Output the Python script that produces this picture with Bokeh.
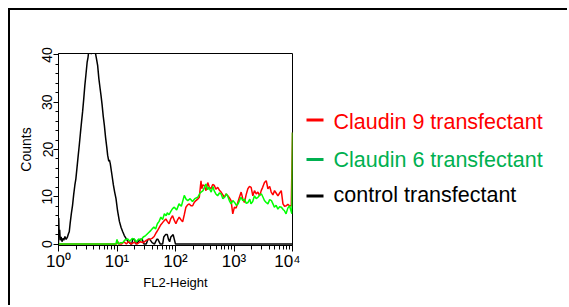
from bokeh.plotting import figure
from bokeh.models import FixedTicker, Range1d
from bokeh.layouts import row
from bokeh.core.properties import value
from bokeh.embed import file_html
from bokeh.resources import INLINE

# ---- data (log10 of FL2-Height, counts) ----
control_log = [0.000, 0.004, 0.012, 0.020, 0.030, 0.045, 0.060, 0.075, 0.090, 0.110,
               0.130, 0.150, 0.170, 0.184, 0.200, 0.220, 0.240, 0.260, 0.280, 0.297,
               0.315, 0.335, 0.355, 0.375, 0.395, 0.412, 0.430, 0.450, 0.468, 0.490,
               0.505, 0.515, 0.540, 0.560, 0.580, 0.600, 0.625, 0.645, 0.669, 0.690,
               0.710, 0.726, 0.745, 0.765, 0.784, 0.805, 0.825, 0.840, 0.860, 0.870,
               0.885, 0.897, 0.915, 0.938, 0.960, 0.983, 1.010, 1.041, 1.070, 1.098,
               1.125, 1.154, 1.185, 1.213, 1.240, 1.25, 1.27, 1.30, 1.32, 1.36,
               1.40, 1.43, 1.46, 1.50, 1.53, 1.56, 1.60, 1.64, 1.68, 1.70,
               1.74, 1.78, 1.80, 1.83, 1.86, 1.88, 1.90, 1.92, 1.96, 1.98,
               2.00, 4.00]
control_counts = [0, 5.5, 1.5, 3, 0.8, 1.5, 0.5, 1.2, 0.8, 1.6,
                  1.0, 1.4, 2.2, 2.6, 4.5, 6.5, 8.2, 10.5, 12.5, 13.8,
                  16, 18.5, 20.9, 23.5, 26, 28, 30.5, 33.5, 35.7, 38.5,
                  39.5, 40.6, 40.6, 40.2, 40.8, 41, 40.8, 39.5, 37.8, 35,
                  33, 31.5, 29.5, 27, 25.1, 22.5, 20.5, 18.8, 17.5, 17.8,
                  17, 16, 14.5, 12.5, 11, 9.6, 7, 4.8, 3.5, 2.6,
                  1.8, 1.2, 0.6, 0.3, 0, 0, 1, 1, 0, 0.5,
                  1, 1, 0, 0, 1, 1, 0.3, 0, 1, 1,
                  0, 0, 1.5, 2, 2, 1, 0.5, 1.5, 2, 1,
                  0, 0]

claudin9_log = [0, 0.99, 1.01, 1.03, 1.08, 1.12, 1.16, 1.20, 1.24, 1.30,
                1.34, 1.40, 1.45, 1.50, 1.52, 1.56, 1.60, 1.635, 1.67, 1.70,
                1.75, 1.79, 1.835, 1.86, 1.89, 1.92, 1.95, 1.98, 2.007, 2.03,
                2.063, 2.09, 2.122, 2.15, 2.178, 2.207, 2.235, 2.264, 2.293, 2.32,
                2.35, 2.379, 2.407, 2.436, 2.45, 2.465, 2.492, 2.521, 2.551, 2.578,
                2.607, 2.636, 2.664, 2.69, 2.722, 2.75, 2.779, 2.81, 2.835, 2.865,
                2.894, 2.92, 2.95, 2.979, 3.007, 3.036, 3.065, 3.09, 3.122, 3.15,
                3.178, 3.207, 3.237, 3.265, 3.293, 3.322, 3.350, 3.38, 3.408, 3.44,
                3.465, 3.49, 3.521, 3.551, 3.580, 3.61, 3.636, 3.665, 3.693, 3.72,
                3.751, 3.78, 3.808, 3.837, 3.864, 3.894, 3.92, 3.95, 3.979, 4.0]
claudin9_counts = [0, 0, 0.6, 0, 0, 0.5, 0, 0.6, 0, 0.4,
                   0, 0.5, 0.3, 0.8, 0.9, 1.0, 1.2, 1.6, 2.4, 3.0,
                   4.1, 4.7, 5.3, 4.8, 4.3, 5.4, 6.0, 5.0, 4.3, 5.0,
                   5.7, 5.2, 4.7, 6.2, 7.8, 8.3, 8.5, 8.1, 8.1, 8.8,
                   9.2, 9.5, 9.9, 13.4, 11.7, 12.5, 12.4, 11.3, 13.0, 12.0,
                   11.7, 12.6, 12.4, 11.6, 12.0, 11.4, 11.0, 10.4, 9.9, 10.6,
                   10.2, 9.8, 9.2, 6.4, 7.8, 7.6, 8.8, 9.8, 11.0, 9.6,
                   8.8, 10.4, 11.7, 12.2, 12.0, 10.2, 11.3, 10.6, 11.0, 10.2,
                   11.3, 12.0, 13.0, 13.4, 11.7, 12.2, 11.0, 10.4, 11.3, 10.8,
                   10.2, 10.8, 11.3, 8.5, 8.0, 8.1, 8.4, 8.1, 8.1, 23.6]

claudin6_log = [0, 0.98, 1.0, 1.02, 1.06, 1.10, 1.13, 1.18, 1.22, 1.26,
                1.29, 1.33, 1.37, 1.41, 1.45, 1.49, 1.53, 1.58, 1.63, 1.66,
                1.69, 1.72, 1.75, 1.78, 1.81, 1.84, 1.86, 1.89, 1.92, 1.95,
                1.98, 2.02, 2.06, 2.10, 2.15, 2.18, 2.21, 2.25, 2.29, 2.33,
                2.38, 2.42, 2.47, 2.52, 2.55, 2.57, 2.61, 2.64, 2.66, 2.69,
                2.72, 2.75, 2.78, 2.81, 2.84, 2.87, 2.89, 2.92, 2.95, 2.98,
                3.01, 3.04, 3.07, 3.10, 3.12, 3.15, 3.18, 3.21, 3.24, 3.27,
                3.29, 3.32, 3.35, 3.38, 3.41, 3.44, 3.47, 3.50, 3.52, 3.55,
                3.58, 3.61, 3.64, 3.67, 3.69, 3.72, 3.75, 3.78, 3.81, 3.84,
                3.86, 3.89, 3.92, 3.95, 3.97, 3.99, 4.0]
claudin6_counts = [0, 0, 1, 0, 0.3, 0.3, 0.8, 1.1, 0.6, 1.2,
                   1.1, 0.5, 1.1, 0.8, 1.5, 1.8, 2.3, 2.9, 3.6, 3.2,
                   4.3, 4.8, 5.7, 5.2, 6.4, 6.0, 6.6, 6.2, 6.9, 7.5,
                   7.8, 7.2, 8.5, 8.0, 10.3, 9.5, 9.2, 9.6, 9.0, 9.6,
                   9.9, 10.8, 11.3, 12.7, 11.5, 12.0, 11.0, 12.2, 11.3, 10.6,
                   10.2, 10.8, 10.6, 9.6, 9.9, 10.6, 10.2, 9.2, 8.5, 9.2,
                   8.8, 8.2, 8.5, 9.4, 9.9, 9.2, 9.5, 8.6, 8.8, 9.5,
                   8.5, 9.0, 10.2, 9.6, 9.9, 10.4, 10.6, 9.8, 9.2, 8.8,
                   8.5, 9.4, 9.2, 8.4, 7.8, 8.2, 7.4, 7.9, 7.8, 7.3,
                   7.1, 6.4, 7.6, 8.1, 7.2, 6.4, 23.6]

x_ticks = [1, 10, 100, 1000, 10000]
x_tick_labels = ["10\u2070", "10\u00b9", "10\u00b2", "10\u00b3", "10\u2074"]
y_ticks = [0, 10, 20, 30, 40]

legend_labels = ["Claudin 9 transfectant", "Claudin 6 transfectant", "control transfectant"]
legend_text_colors = ["#FF0000", "#00B050", "#000000"]
legend_mark_colors = ["#FF0000", "#00B050", "#000000"]
line_colors = ["#FF0000", "#00FF00", "#000000"]

FONT = "Liberation Sans"
NARROW = "Liberation Sans Narrow, Liberation Sans"

H = 297
B_TOP, B_BOTTOM = 43, 62

# ---------------- main histogram panel ----------------
p = figure(width=292, height=H, x_axis_type="log",
           x_range=Range1d(1, 10000), y_range=Range1d(-0.3, 40.3),
           output_backend="svg", toolbar_location=None,
           min_border_left=48, min_border_right=10,
           min_border_top=B_TOP, min_border_bottom=B_BOTTOM)
p.styles = {"border-top": "2px solid black", "border-left": "2px solid black"}
p.background_fill_color = "white"
p.border_fill_color = "white"
p.outline_line_color = "black"
p.outline_line_width = 1
p.xgrid.visible = False
p.ygrid.visible = False

p.line([10 ** e for e in control_log], control_counts, line_color=line_colors[2], line_width=1.5)
p.line([10 ** e for e in claudin9_log], claudin9_counts, line_color=line_colors[0], line_width=1.5)
p.line([10 ** e for e in claudin6_log], claudin6_counts, line_color=line_colors[1], line_width=1.5)

# x axis
minor_x = [t * k for t in x_ticks[:-1] for k in range(2, 10)]
p.xaxis.ticker = FixedTicker(ticks=x_ticks, minor_ticks=minor_x)
p.xaxis.major_label_overrides = {t: lab for t, lab in zip(x_ticks, x_tick_labels)}
p.xaxis.major_label_text_font = NARROW
p.xaxis.major_label_text_font_size = "17px"
p.xaxis.major_label_text_color = "black"
p.xaxis.major_label_standoff = 0
p.xaxis.major_tick_in = 0
p.xaxis.major_tick_out = 6
p.xaxis.minor_tick_in = 0
p.xaxis.minor_tick_out = 4
p.xaxis.axis_label = "FL2-Height"
p.xaxis.axis_label_text_font = FONT
p.xaxis.axis_label_text_font_size = "13px"
p.xaxis.axis_label_text_font_style = "normal"
p.xaxis.axis_label_text_color = "black"
p.xaxis.axis_label_standoff = 1
p.xaxis.axis_line_color = "black"

# y axis
minor_y = [t + k for t in y_ticks[:-1] for k in (2, 4, 6, 8)]
p.yaxis.ticker = FixedTicker(ticks=y_ticks, minor_ticks=minor_y)
p.yaxis.major_label_orientation = "vertical"
p.yaxis.major_label_text_font = FONT
p.yaxis.major_label_text_font_size = "14px"
p.yaxis.major_label_text_color = "black"
p.yaxis.major_label_standoff = 1
p.yaxis.major_tick_in = 0
p.yaxis.major_tick_out = 5
p.yaxis.minor_tick_in = 0
p.yaxis.minor_tick_out = 3
p.yaxis.axis_label = "Counts"
p.yaxis.axis_label_text_font = FONT
p.yaxis.axis_label_text_font_size = "14px"
p.yaxis.axis_label_text_font_style = "normal"
p.yaxis.axis_label_text_color = "black"
p.yaxis.axis_label_standoff = 6
p.yaxis.axis_line_color = "black"

# ---------------- legend panel (frame-relative coordinates, y down) ----------------
LW = 267
FRAME_H = H - B_TOP - B_BOTTOM
q = figure(width=LW, height=H, x_range=Range1d(0, LW), y_range=Range1d(FRAME_H, 0),
           x_axis_location=None, y_axis_location=None,
           output_backend="svg", toolbar_location=None,
           min_border_left=0, min_border_right=0,
           min_border_top=B_TOP, min_border_bottom=B_BOTTOM)
q.styles = {"border-top": "2px solid black"}
q.outline_line_color = None
q.background_fill_color = "white"
q.border_fill_color = "white"
q.xgrid.visible = False
q.ygrid.visible = False

mark_y = [66.5, 106, 142.5]
text_y = [68, 106.5, 141]
q.segment(x0=[6] * 3, y0=mark_y, x1=[23] * 3, y1=mark_y,
          line_color=legend_mark_colors, line_width=3)
q.text(x=[33] * 3, y=text_y, text=legend_labels, text_color=legend_text_colors,
       text_font=value(FONT), text_font_size="21.5px", text_baseline="alphabetic",
       text_align="left")

layout = row(p, q, styles={"margin-left": "8px", "margin-top": "8px"})

open("out.html", "w").write(file_html(layout, INLINE))
